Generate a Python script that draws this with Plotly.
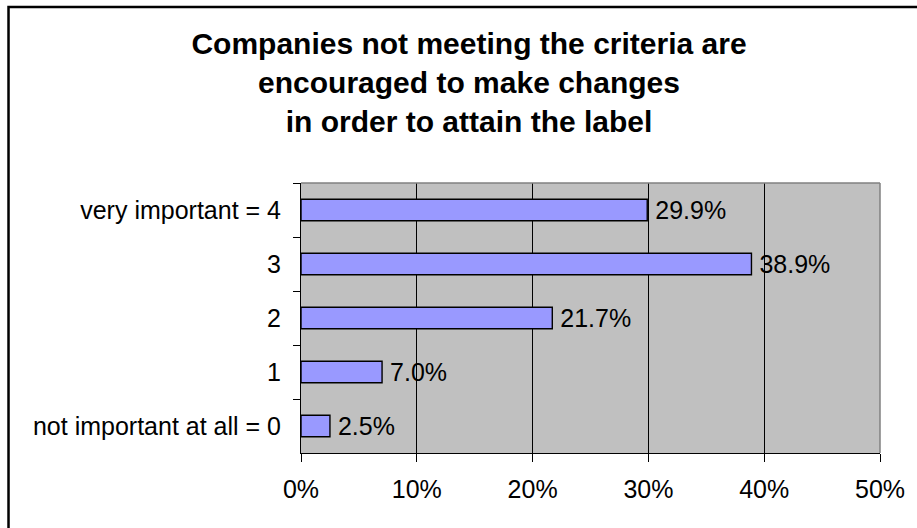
import plotly.graph_objects as go

# Survey responses, listed top to bottom as they appear on the chart
categories = ["very important = 4", "3", "2", "1", "not important at all = 0"]
shares = [0.299, 0.389, 0.217, 0.070, 0.025]

x_ticks = [0, 0.1, 0.2, 0.3, 0.4, 0.5]
x_tick_text = ["0%", "10%", "20%", "30%", "40%", "50%"]

title_lines = [
    "Companies not meeting the criteria are",
    "encouraged to make changes",
    "in order to attain the label",
]

FONT = "Liberation Sans, Arial, sans-serif"

# Plot area geometry in pixels (used to place the frame shapes)
W, H = 917, 528
L, R, T, B = 301, 34, 183, 75
pw, ph = W - L - R, H - T - B

fig = go.Figure(
    go.Bar(
        x=shares,
        y=categories,
        orientation="h",
        width=0.4,
        marker=dict(color="#9999FF", line=dict(color="#000000", width=1.4)),
        text=[f"\u2009{v * 100:.1f}%" for v in shares],
        textposition="outside",
        textfont=dict(family=FONT, size=25, color="#000000"),
        cliponaxis=False,
        constraintext="none",
        hoverinfo="skip",
    )
)

# Chart-area border (left and top edges fall inside the page)
bx0 = (7 - L) / pw
by1 = (T + ph - 7) / ph

fig.update_layout(
    width=W,
    height=H,
    margin=dict(l=L, r=R, t=T, b=B, pad=0),
    paper_bgcolor="#FFFFFF",
    plot_bgcolor="#C0C0C0",
    showlegend=False,
    bargap=0.6,
    title=dict(
        text="<br>".join(title_lines),
        font=dict(family=FONT, size=30, color="#000000", weight="bold"),
        x=469 / W,
        xanchor="center",
        xref="container",
        y=1 - 54 / H,
        yanchor="top",
        yref="container",
    ),
    xaxis=dict(
        range=[0, 0.5],
        tickvals=x_ticks,
        ticktext=x_tick_text,
        showgrid=True,
        gridcolor="#000000",
        gridwidth=1,
        zeroline=False,
        showline=True,
        linecolor="#000000",
        linewidth=1,
        ticks="outside",
        ticklen=8,
        tickcolor="#000000",
        tickwidth=1,
        ticklabelstandoff=6,
        tickfont=dict(family=FONT, size=25, color="#000000"),
        fixedrange=True,
    ),
    yaxis=dict(
        type="category",
        categoryorder="array",
        categoryarray=categories,
        autorange="reversed",
        showgrid=False,
        zeroline=False,
        showline=True,
        linecolor="#000000",
        linewidth=1,
        ticks="outside",
        tickson="boundaries",
        ticklen=7,
        tickcolor="#000000",
        tickwidth=1,
        ticklabelstandoff=14,
        tickfont=dict(family=FONT, size=25, color="#000000"),
        fixedrange=True,
    ),
    shapes=[
        # grey top and right edges of the plot area
        dict(type="line", xref="paper", yref="paper", x0=0, x1=1, y0=1, y1=1,
             line=dict(color="#808080", width=1.5), layer="above"),
        dict(type="line", xref="paper", yref="paper", x0=1, x1=1, y0=0, y1=1,
             line=dict(color="#808080", width=1.5), layer="above"),
        # outer chart border
        dict(type="rect", xref="paper", yref="paper", x0=bx0, x1=2.0, y0=-1.0, y1=by1,
             line=dict(color="#000000", width=2.5), fillcolor="rgba(0,0,0,0)", layer="above"),
    ],
)

fig.write_html("out.html", config={"displayModeBar": False})
